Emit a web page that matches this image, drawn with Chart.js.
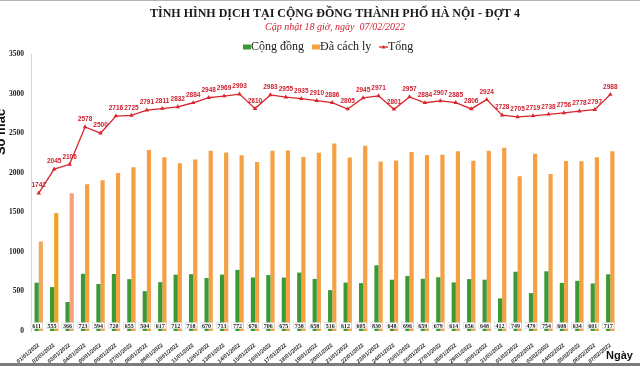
<!DOCTYPE html>
<html>
<head>
<meta charset="utf-8">
<script src="https://cdn.jsdelivr.net/npm/chart.js@4.4.1/dist/chart.umd.min.js"></script>
<style>
  html, body { margin: 0; padding: 0; background: #fff; }
  canvas { display: block; }
</style>
</head>
<body>
<canvas id="chart" width="640" height="366"></canvas>
<script>
// Dữ liệu
const dates = ['01/01/2022', '02/01/2022', '03/01/2022', '04/01/2022', '05/01/2022', '06/01/2022', '07/01/2022',
  '08/01/2022', '09/01/2022', '10/01/2022', '11/01/2022', '12/01/2022', '13/01/2022', '14/01/2022',
  '15/01/2022', '16/01/2022', '17/01/2022', '18/01/2022', '19/01/2022', '20/01/2022', '21/01/2022',
  '22/01/2022', '23/01/2022', '24/01/2022', '25/01/2022', '26/01/2022', '27/01/2022', '28/01/2022',
  '29/01/2022', '30/01/2022', '31/01/2022', '01/02/2022', '02/02/2022', '03/02/2022', '04/02/2022',
  '05/02/2022', '06/02/2022', '07/02/2022'];
const congDong = [611, 555, 366, 723, 594, 720, 655, 504, 617, 712, 718, 670, 713, 772, 676, 706, 675, 738, 658,
  516, 612, 605, 830, 648, 696, 659, 679, 614, 656, 648, 412, 749, 479, 754, 608, 634, 601, 717];
const daCachLy = [1131, 1490, 1740, 1855, 1906, 1996, 2070, 2287, 2194, 2120, 2166, 2278, 2256, 2221, 2134, 2277,
  2280, 2197, 2252, 2370, 2193, 2340, 2141, 2153, 2261, 2225, 2228, 2271, 2150, 2276, 2316, 1956, 2240, 1984,
  2148, 2144, 2196, 2271];
const tong = [1742, 2045, 2106, 2578, 2500, 2716, 2725, 2791, 2811, 2832, 2884, 2948, 2969, 2993, 2810, 2983, 2955,
  2935, 2910, 2886, 2805, 2945, 2971, 2801, 2957, 2884, 2907, 2885, 2806, 2924, 2728, 2705, 2719, 2738, 2756,
  2778, 2797, 2988];
const yTicks = [0, 500, 1000, 1500, 2000, 2500, 3000, 3500];

const GREEN = '#3b9a33';
const ORANGE = '#f4a043';
const RED = '#d9262c';

// vài cột cam đầu có màu hơi khác
const orangeColors = daCachLy.map((v, i) => i === 0 ? '#f3a65e' : i === 1 ? '#f1a21f' : i === 2 ? '#f4a27e' : ORANGE);

// Tiêu đề, chú thích, nhãn trục
const decorPlugin = {
  id: 'decor',
  beforeDraw(chart) {
    const ctx = chart.ctx;
    ctx.save();
    ctx.fillStyle = '#fff';
    ctx.fillRect(0, 0, chart.width, chart.height);
    ctx.fillStyle = '#b4b4b4';
    ctx.fillRect(0, 0, chart.width, 1);
    ctx.fillStyle = '#7c7c7c';
    ctx.fillRect(0, 363, chart.width, 3);
    ctx.restore();
  },
  afterDraw(chart) {
    const ctx = chart.ctx;
    ctx.save();
    ctx.textAlign = 'center';
    ctx.textBaseline = 'middle';
    ctx.fillStyle = '#1a1a1a';
    ctx.font = 'bold 12px "Liberation Serif"';
    ctx.fillText('TÌNH HÌNH DỊCH TẠI CỘNG ĐỒNG THÀNH PHỐ HÀ NỘI - ĐỢT 4', 335, 14);
    ctx.fillStyle = '#d0202e';
    ctx.font = 'italic 10px "Liberation Serif"';
    ctx.fillText('Cập nhật 18 giờ, ngày  07/02/2022', 335, 27);

    // chú thích
    ctx.font = '12px "Liberation Serif"';
    ctx.textAlign = 'left';
    ctx.fillStyle = GREEN;
    ctx.fillRect(243, 44.5, 8, 5);
    ctx.fillStyle = '#222';
    ctx.fillText('Cộng đồng', 251, 47);
    ctx.fillStyle = ORANGE;
    ctx.fillRect(312, 44.5, 8, 5);
    ctx.fillStyle = '#222';
    ctx.fillText('Đã cách ly', 320, 47);
    ctx.strokeStyle = RED;
    ctx.lineWidth = 1.3;
    ctx.beginPath();
    ctx.moveTo(379, 47);
    ctx.lineTo(388, 47);
    ctx.stroke();
    ctx.fillStyle = RED;
    ctx.beginPath();
    ctx.moveTo(383.5, 45);
    ctx.lineTo(385.5, 48.5);
    ctx.lineTo(381.5, 48.5);
    ctx.closePath();
    ctx.fill();
    ctx.fillStyle = '#222';
    ctx.fillText('Tổng', 388, 47);

    // tên trục
    ctx.font = 'bold 13px "Liberation Sans"';
    ctx.fillStyle = '#111';
    ctx.save();
    ctx.translate(1, 132);
    ctx.rotate(-Math.PI / 2);
    ctx.textAlign = 'center';
    ctx.fillText('Số mắc', 0, 0);
    ctx.restore();
    ctx.font = 'bold 11px "Liberation Sans"';
    ctx.textBaseline = 'alphabetic';
    ctx.fillText('Ngày', 606, 359);
    ctx.restore();
  }
};

// Nhãn số liệu
const labelPlugin = {
  id: 'valueLabels',
  afterDatasetsDraw(chart) {
    const ctx = chart.ctx;
    const base = chart.scales.y.getPixelForValue(0);
    ctx.save();
    ctx.textAlign = 'center';
    ctx.textBaseline = 'middle';

    const lineMeta = chart.getDatasetMeta(2);
    ctx.font = 'bold 6.5px "Liberation Sans"';
    ctx.fillStyle = '#d0202e';
    lineMeta.data.forEach((pt, i) => {
      ctx.fillText(String(tong[i]), pt.x, pt.y - 7.5);
    });

    const greenMeta = chart.getDatasetMeta(0);
    ctx.font = 'bold 6px "Liberation Serif"';
    greenMeta.data.forEach((bar, i) => {
      const w = 11.5, h = 6;
      const cy = base - 5.3;
      ctx.fillStyle = '#fff';
      ctx.fillRect(bar.x - w / 2, cy - h / 2, w, h);
      ctx.strokeStyle = '#d8d8d8';
      ctx.lineWidth = 0.6;
      ctx.strokeRect(bar.x - w / 2, cy - h / 2, w, h);
      ctx.fillStyle = '#222';
      ctx.fillText(String(congDong[i]), bar.x, cy + 0.3);
    });
    ctx.restore();
  }
};

new Chart(document.getElementById('chart'), {
  type: 'bar',
  data: {
    labels: dates,
    datasets: [
      {
        label: 'Cộng đồng',
        data: congDong,
        backgroundColor: GREEN,
        barPercentage: 1,
        categoryPercentage: 0.54,
        order: 1
      },
      {
        label: 'Đã cách ly',
        data: daCachLy,
        backgroundColor: orangeColors,
        barPercentage: 1,
        categoryPercentage: 0.54,
        order: 1
      },
      {
        type: 'line',
        label: 'Tổng',
        data: tong,
        borderColor: RED,
        backgroundColor: RED,
        borderWidth: 1.3,
        pointStyle: 'triangle',
        pointRadius: 2.6,
        pointBorderWidth: 0,
        tension: 0,
        order: 0
      }
    ]
  },
  options: {
    responsive: false,
    animation: false,
    layout: { padding: { top: 54, left: 0, right: 22, bottom: 0 } },
    plugins: {
      legend: { display: false },
      tooltip: { enabled: false }
    },
    scales: {
      x: {
        grid: { display: false },
        border: { display: false },
        ticks: {
          autoSkip: false,
          minRotation: 40,
          maxRotation: 40,
          padding: 3,
          color: '#333',
          font: { family: 'Liberation Sans', size: 5.5, weight: 'bold' }
        },
        afterFit: (s) => { s.height = 35; }
      },
      y: {
        min: 0,
        max: 3500,
        afterBuildTicks: (s) => { s.ticks = yTicks.map(v => ({ value: v })); },
        grid: { display: false, drawTicks: false },
        border: { display: true, color: '#d4d4d4', width: 1 },
        ticks: {
          padding: 7,
          color: '#222',
          callback: (v) => String(v),
          font: { family: 'Liberation Serif', size: 7.5, weight: 'bold' }
        },
        afterFit: (s) => { s.width = 31; }
      }
    }
  },
  plugins: [decorPlugin, labelPlugin]
});
</script>
</body>
</html>
